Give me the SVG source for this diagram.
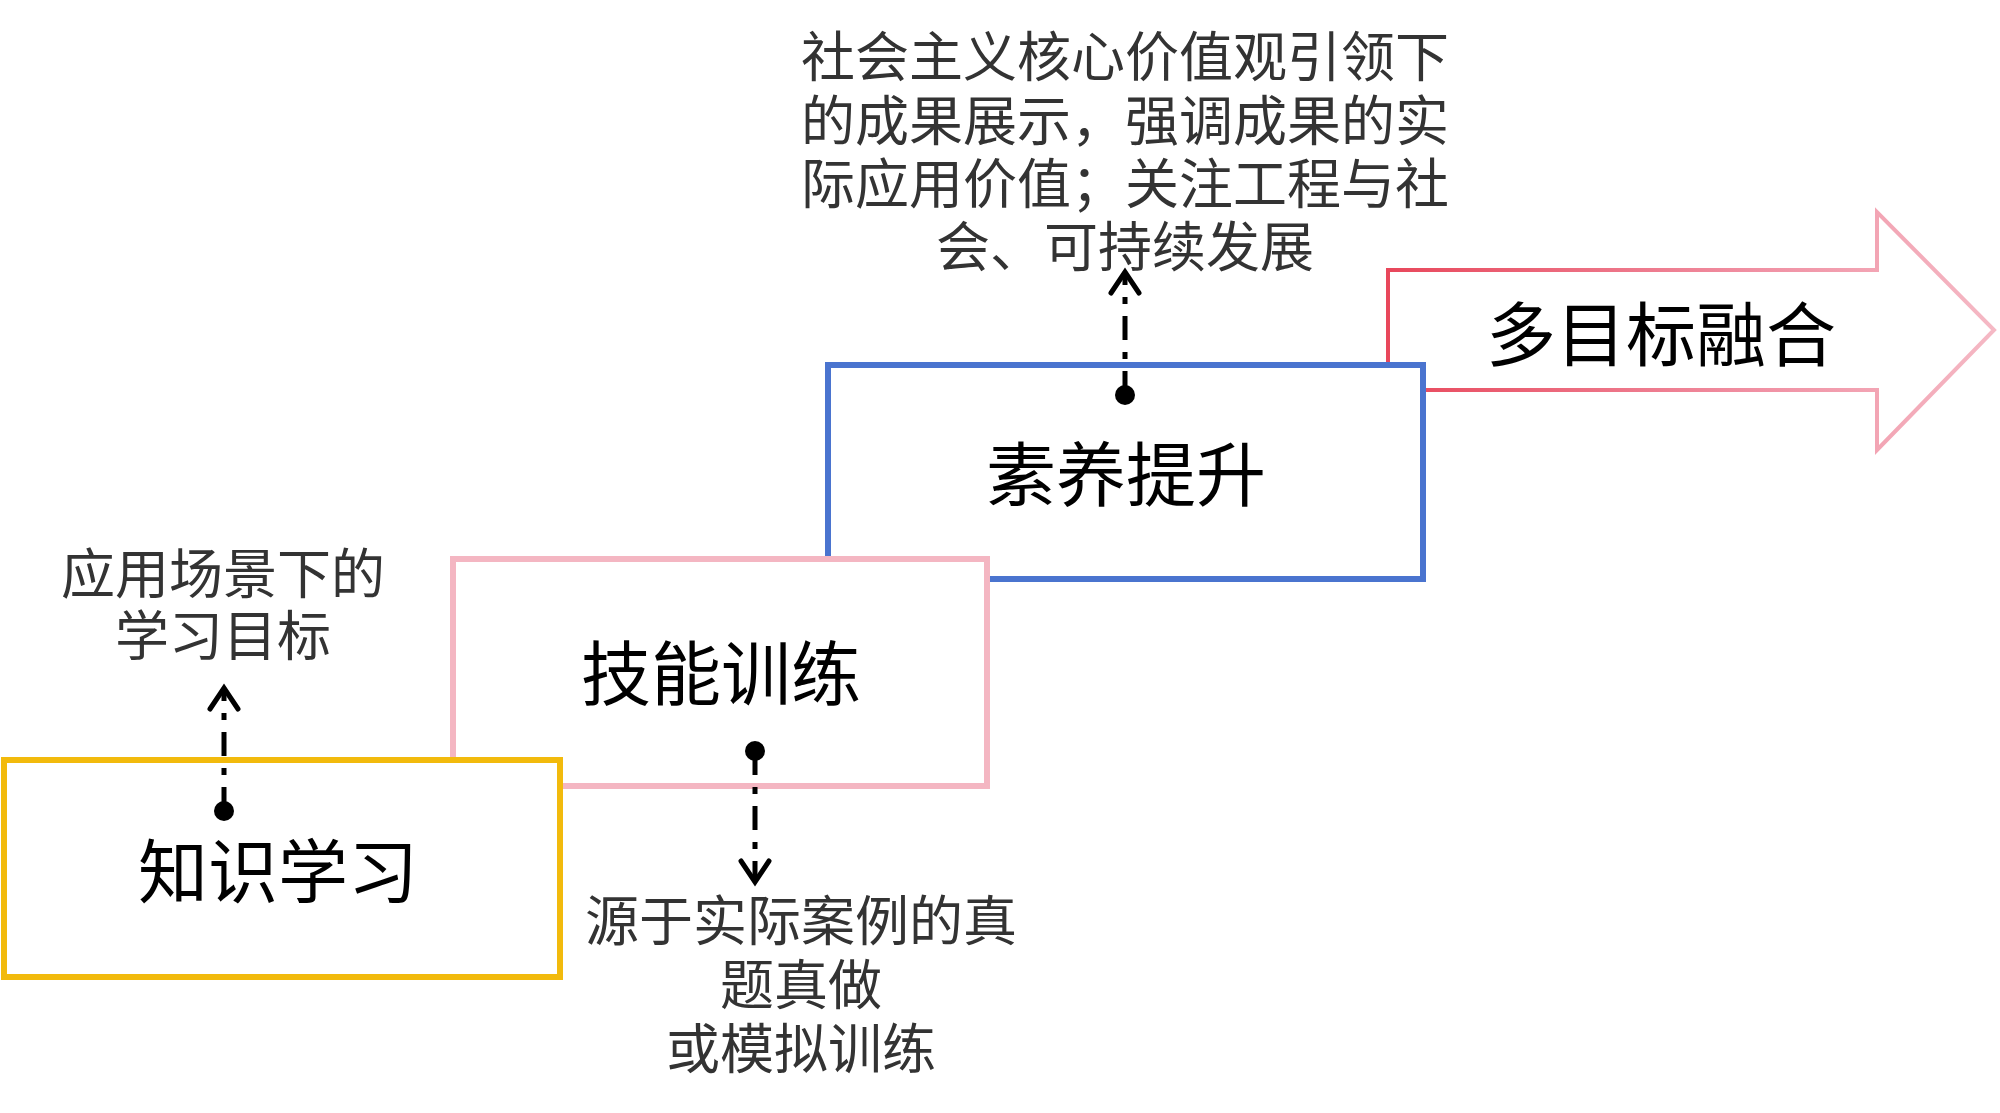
<svg xmlns="http://www.w3.org/2000/svg" width="2000" height="1113" viewBox="0 0 2000 1113">
<defs>
<linearGradient id="arrowGrad" x1="0" y1="0" x2="1" y2="0">
<stop offset="0" stop-color="#E8475B"/>
<stop offset="0.6" stop-color="#F08FA2"/>
<stop offset="1" stop-color="#F5B9C5"/>
</linearGradient>
<marker id="dot" viewBox="-12 -12 24 24" markerWidth="24" markerHeight="24" refX="0" refY="0" markerUnits="userSpaceOnUse">
<circle cx="0" cy="0" r="10" fill="#000"/>
</marker>
<marker id="chev" viewBox="-30 -22 40 44" markerWidth="40" markerHeight="44" refX="0" refY="0" orient="auto" markerUnits="userSpaceOnUse">
<polyline points="-21,-14 0,0 -21,14" fill="none" stroke="#000" stroke-width="5" stroke-linecap="round" stroke-linejoin="miter"/>
</marker>
</defs>
<style>
.box{fill:#fff;stroke-width:6}
.lbl{font-family:"Noto Sans CJK SC","Noto Sans",sans-serif;font-size:70px;fill:#000;text-anchor:middle}
.note{font-family:"Noto Sans CJK SC","Noto Sans",sans-serif;font-size:54px;fill:#333;text-anchor:middle}
.conn{fill:none;stroke:#000;stroke-width:5;stroke-dasharray:24 12 7 12;marker-start:url(#dot);marker-end:url(#chev)}
</style>
<rect width="2000" height="1113" fill="#fff"/>
<g id="node-fusion">
<polygon points="1388,270 1877,270 1877,212 1994,330 1877,450 1877,390 1388,390" fill="#fff" stroke="url(#arrowGrad)" stroke-width="4"/>
<text class="lbl" x="1661" y="361">多目标融合</text>
</g>
<g id="node-quality">
<rect class="box" x="828" y="365" width="595" height="214" stroke="#4A74CF"/>
<text class="lbl" x="1126" y="501">素养提升</text>
</g>
<g id="node-skill">
<rect class="box" x="453" y="559" width="534" height="227" stroke="#F4B6C2"/>
<text class="lbl" x="721" y="700">技能训练</text>
</g>
<g id="node-knowledge">
<rect class="box" x="4" y="760" width="556" height="217" stroke="#F2BA0C"/>
<text class="lbl" x="278" y="898">知识学习</text>
</g>
<g id="connectors">
<line class="conn" x1="224" y1="811" x2="224" y2="688"/>
<line class="conn" x1="755" y1="751" x2="755" y2="882"/>
<line class="conn" x1="1125" y1="395" x2="1125" y2="272"/>
</g>
<g id="note-top">
<text class="note" x="1125" y="77">社会主义核心价值观引领下</text>
<text class="note" x="1125" y="141">的成果展示，强调成果的实</text>
<text class="note" x="1125" y="204">际应用价值；关注工程与社</text>
<text class="note" x="1125" y="267">会、可持续发展</text>
</g>
<g id="note-left">
<text class="note" x="223" y="594">应用场景下的</text>
<text class="note" x="223" y="656">学习目标</text>
</g>
<g id="note-bottom">
<text class="note" x="801" y="941">源于实际案例的真</text>
<text class="note" x="801" y="1005">题真做</text>
<text class="note" x="801" y="1069">或模拟训练</text>
</g>
</svg>
